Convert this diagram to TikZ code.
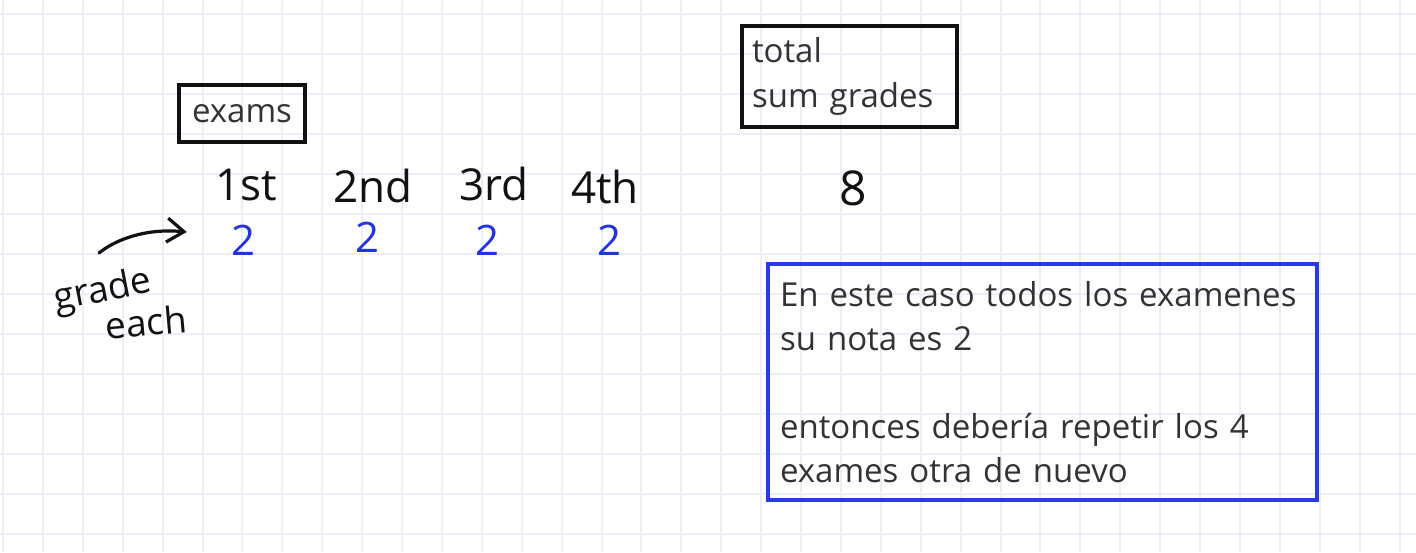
\documentclass[tikz,border=0pt]{standalone}
\usepackage{fontspec}
\setmainfont{Open Sans}
\usepackage{tikz}
\usepackage{xcolor}
\usetikzlibrary{arrows.meta,positioning}
\definecolor{paper}{HTML}{FFFFFF}
\definecolor{gridline}{HTML}{ECEEF9}
\definecolor{ink}{HTML}{111111}
\definecolor{boxtext}{HTML}{333333}
\definecolor{pen}{HTML}{2233E0}
\definecolor{noteblue}{HTML}{2A3AE8}
\tikzset{
  labelbox/.style={draw=ink,line width=3.5pt,text=boxtext,
                   font=\fontsize{33}{45}\selectfont,align=left,inner sep=0pt},
  notebox/.style={draw=noteblue,line width=3.5pt,text=boxtext,
                  font=\fontsize{33}{44}\selectfont,align=left,
                  inner xsep=12pt,inner ysep=0pt,text width=525pt,minimum height=236pt},
  hand/.style={text=ink,font=\fontsize{44}{44}\selectfont,inner sep=0pt},
  gradenum/.style={text=pen,font=\fontsize{42}{42}\selectfont,inner sep=0pt},
  handarr/.style={-{Straight Barb[length=17pt,width=24pt]},line width=3.2pt,
                  color=ink,line cap=round}
}

\begin{document}
\begin{tikzpicture}[x=1pt,y=-1pt]
      % squared paper
      \fill[paper] (0,0) rectangle (1416,552);
      \useasboundingbox (0,0) rectangle (1416,552);
      \foreach \k in {0,...,35} {
        \draw[gridline,line width=2pt] ({3+39.9*\k},0) -- ({3+39.9*\k},552);
      }
      \foreach \k in {0,...,13} {
        \draw[gridline,line width=2pt] (0,{14+40*\k}) -- (1416,{14+40*\k});
      }

      % boxed headings
      \node[labelbox,minimum width=126pt,minimum height=57pt] (exams) at (242,113.5) {exams};
      \node[labelbox,text width=195pt,inner xsep=10pt,minimum height=101pt] (total)
        at (849.5,76.5) {total\\sum grades};

      % exam row and the grades below it
      \foreach \x/\y/\lbl [count=\i] in {246/185/1st,373/186/2nd,494/184/3rd,605/187/4th} {
        \node[hand] (exam\i) at (\x,\y) {\lbl};
      }
      \foreach \x/\y [count=\i] in {244/240,368/237,488/240,609/240} {
        \node[gradenum] (mark\i) at (\x,\y) {2};
      }
      \node[hand,font=\fontsize{48}{48}\selectfont] (sum) at (853,188) {8};

      % "grade each" pointing at the first grade
      \node[hand,font=\fontsize{37}{37}\selectfont,rotate=11] (gradelbl) at (103,292) {grade};
      \node[hand,font=\fontsize{37}{37}\selectfont,rotate=5] (eachlbl) at (146,322) {each};
      \coordinate (arrtail) at (99,253);
      \coordinate (arrtip) at ([xshift=-45pt,yshift=8pt]mark1.west);
      \draw[handarr] (arrtail) .. controls (115,240) and (145,228) .. (arrtip);

      % note
      \node[notebox] (note) at (1042.5,382)
        {En este caso todos los examenes\\su nota es 2\\[44pt]entonces debería repetir los 4\\exames otra de nuevo};
    \end{tikzpicture}
\end{document}
